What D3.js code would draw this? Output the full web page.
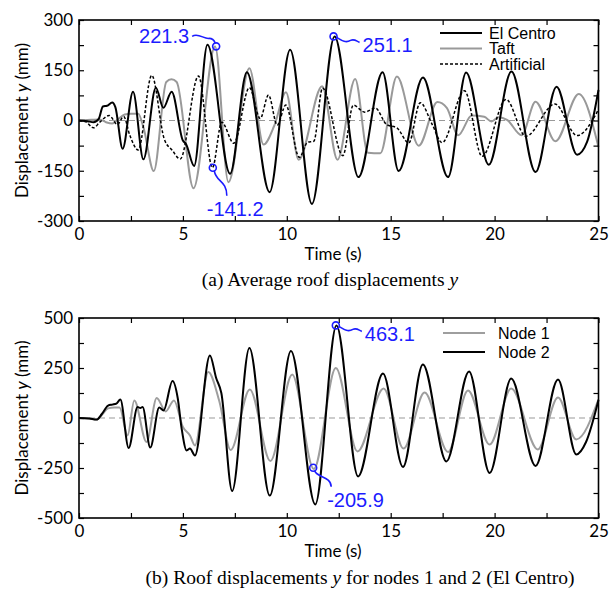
<!DOCTYPE html>
<html><head><meta charset="utf-8">
<script src="https://cdn.jsdelivr.net/npm/d3@7"></script>
<style>body{margin:0;background:#fff}</style>
</head><body><svg id="c" width="611" height="595"></svg>
<script>
// ---------- DATA ----------
const elCentro = [[0,0],[0.4,-2],[0.7,-5],[0.95,5],[1.15,42],[1.35,44],[1.6,54],[1.75,40],[2.1,-84],[2.6,86],[3.1,-116],[3.7,98],[4.06,38],[4.46,86],[5.0,-60],[5.15,-70],[5.54,-136],[6.18,226],[7.27,-159],[8.08,144],[9.17,-214],[10.16,211],[11.21,-249],[12.3,251],[13.45,-169],[14.61,144],[15.38,-151],[16.55,128],[17.76,-169],[18.63,143],[19.72,-132],[20.81,146],[21.97,-154],[22.98,101],[23.97,-102],[24.45,-64],[25,91]];
const taft = [[0,0],[0.6,2],[1.0,3],[1.3,-5],[1.6,-9],[1.9,5],[2.2,18],[2.5,20],[2.85,20],[3.1,-20],[3.6,-151],[4.2,115],[4.45,123],[4.7,115],[5.51,-202],[6.55,221],[7.19,-184],[8.2,156],[8.88,-72],[9.4,-15],[9.96,84],[10.57,-117],[11.7,102],[12.44,-117],[13.29,124],[13.9,-96],[14.5,-98],[15.3,131],[16.35,-75],[17.25,55],[17.7,38],[18.25,-44],[18.9,15],[19.5,11],[19.85,-3],[20.2,10],[20.6,2],[21.3,-44],[21.97,56],[22.93,-62],[24.05,79],[25,-79]];
const artificial = [[0,0],[0.35,-5],[0.7,-22],[1.0,-5],[1.45,15],[1.85,-12],[2.15,12],[2.45,-45],[2.85,-88],[3.5,135],[4.1,-55],[4.5,-90],[4.87,-115],[5.75,133],[6.42,-141],[6.87,-5],[7.45,-68],[8.2,98],[8.72,6],[9.12,76],[9.54,-14],[9.95,46],[10.6,-110],[11.0,-65],[11.3,-62],[11.72,97],[12.7,-105],[13.2,46],[13.75,25],[14.26,37],[14.8,-12],[15.3,-22],[15.87,-67],[16.42,53],[17.0,-12],[17.47,-66],[18.55,89],[19.4,-107],[20.55,63],[21.5,-47],[22.9,49],[23.97,-45],[25,33]];
const node2 = [[0,0],[0.5,-3],[0.85,-8],[1.1,20],[1.4,62],[1.6,67],[1.8,72],[1.99,92],[2.39,-150],[2.82,55],[2.95,50],[3.06,55],[3.43,-148],[3.86,52],[4.07,38],[4.5,185],[4.75,100],[4.94,-53],[5.18,-162],[5.34,-153],[5.58,-187],[6.3,313],[6.6,200],[6.85,125],[7.37,-365],[8.2,350],[9.18,-388],[10.2,335],[11.37,-432],[12.39,463],[13.43,-292],[14.63,222],[15.59,-245],[16.55,268],[17.68,-217],[18.77,233],[19.76,-275],[20.8,197],[21.97,-240],[23.05,193],[23.93,-182],[24.4,-120],[25,90]];
const node1 = [[0,0],[0.5,-3],[0.85,-8],[1.1,15],[1.4,48],[1.7,52],[1.95,52],[2.34,-87],[2.66,88],[3.25,-120],[3.74,100],[4.17,33],[4.57,88],[5.0,-45],[5.34,-87],[5.58,-137],[6.22,230],[6.75,85],[7.3,-160],[8.22,143],[9.21,-215],[10.26,217],[11.3,-255],[12.36,250],[13.4,-167],[14.66,147],[15.62,-153],[16.63,127],[17.76,-170],[18.72,138],[19.76,-133],[20.8,147],[22.08,-157],[23.05,102],[23.93,-107],[25,93]];
const xTicks = [0,2.5,5,7.5,10,12.5,15,17.5,20,22.5,25];
const yTicksA = [-300,-225,-150,-75,0,75,150,225,300];
const yTicksB = [-500,-375,-250,-125,0,125,250,375,500];
const notesA = [{t:6.6,v:221.3,label:"221.3",kind:"left"},{t:6.44,v:-141.2,label:"-141.2",kind:"down",dx:-6,dy:48,lx:14,ly:28},{t:12.25,v:251.1,label:"251.1",kind:"right"}];
const notesB = [{t:12.36,v:463.1,label:"463.1",kind:"right"},{t:11.27,v:-249,label:"-205.9",kind:"down",dx:14,dy:39,lx:18,ly:19}];
const legendA = [{name:"El Centro",color:"#000",dash:null,w:2},{name:"Taft",color:"#999",dash:null,w:2},{name:"Artificial",color:"#000",dash:"3,2",w:1.5}];
const legendB = [{name:"Node 1",color:"#9e9e9e",dash:null,w:2},{name:"Node 2",color:"#000",dash:null,w:2}];

// ---------- DRAW ----------
const svg = d3.select("#c");
svg.append("rect").attr("width",611).attr("height",595).attr("fill","#fff");
const tickFont = "Lato, 'Open Sans', sans-serif";
const blue = "#1c1cff";

function panel(o){
  const x = d3.scaleLinear([0,25],[79,598.5]);
  const y = d3.scaleLinear(o.ydom,[o.bottom,o.top]);
  const g = svg.append("g");
  g.append("line").attr("x1",x(0)).attr("x2",x(25)).attr("y1",y(0)).attr("y2",y(0))
    .attr("stroke","#999").attr("stroke-width",1).attr("stroke-dasharray","6,4");
  const line = d3.line().x(d=>x(d[0])).y(d=>y(d[1])).curve(d3.curveMonotoneX);
  o.series.forEach(s=>{
    g.append("path").attr("d",line(s.data)).attr("fill","none").attr("stroke",s.color)
      .attr("stroke-width",s.w).attr("stroke-dasharray",s.dash).attr("stroke-linejoin","round");
  });
  const fmtX = d=> d%5===0 ? d : "";
  const fmtY = d=> d%o.labelStep===0 ? d : "";
  const ax = [
    g.append("g").attr("transform",`translate(0,${o.bottom})`).call(d3.axisBottom(x).tickValues(xTicks).tickFormat(fmtX).tickSizeInner(-5).tickSizeOuter(0).tickPadding(7)),
    g.append("g").attr("transform",`translate(0,${o.top})`).call(d3.axisTop(x).tickValues(xTicks).tickFormat("").tickSizeInner(-5).tickSizeOuter(0)),
    g.append("g").attr("transform",`translate(79,0)`).call(d3.axisLeft(y).tickValues(o.yticks).tickFormat(fmtY).tickSizeInner(-5).tickSizeOuter(0).tickPadding(6)),
    g.append("g").attr("transform",`translate(598.5,0)`).call(d3.axisRight(y).tickValues(o.yticks).tickFormat("").tickSizeInner(-5).tickSizeOuter(0))
  ];
  ax.forEach(a=>{a.select(".domain").remove(); a.selectAll("line").attr("stroke","#000").attr("stroke-width",1.2);
    a.selectAll("text").attr("font-family",tickFont).attr("font-size",17).attr("fill","#000");});
  g.append("rect").attr("x",79).attr("y",o.top).attr("width",598.5-79).attr("height",o.bottom-o.top)
    .attr("fill","none").attr("stroke","#000").attr("stroke-width",1.6);
  g.append("text").attr("x",333).attr("y",o.bottom+39).attr("text-anchor","middle")
    .attr("font-family",tickFont).attr("font-size",17).text("Time (s)");
  const yl = g.append("text").attr("transform",`translate(28,${(o.top+o.bottom)/2}) rotate(-90)`)
    .attr("text-anchor","middle").attr("font-family",tickFont).attr("font-size",17);
  yl.append("tspan").text("Displacement ");
  yl.append("tspan").attr("font-style","italic").text("y");
  yl.append("tspan").text(" (mm)");
  const cap = g.append("text").attr("x",o.capX).attr("y",o.bottom+o.capDy).attr("text-anchor","middle")
    .attr("font-family","'Liberation Serif', 'Times New Roman', serif").attr("font-size",19.5);
  cap.append("tspan").text(o.cap);
  cap.append("tspan").attr("font-style","italic").text("y");
  if(o.cap2) cap.append("tspan").text(o.cap2);
  o.legend.forEach((l,i)=>{
    const ly = o.legY + i*o.legGap;
    g.append("line").attr("x1",o.legX).attr("x2",o.legX+42).attr("y1",ly).attr("y2",ly)
      .attr("stroke",l.color).attr("stroke-width",l.w).attr("stroke-dasharray",l.dash);
    g.append("text").attr("x",o.legX+o.legTx).attr("y",ly+5.5).attr("font-family","'Liberation Sans', Arial, sans-serif")
      .attr("font-size",16).text(l.name);
  });
  o.notes.forEach(n=>{
    const mx = x(n.t), my = y(n.v);
    let p, tx, ty, anchor="start";
    if(n.kind==="left"){ p=`M${mx-24},${my-10} C${mx-18},${my-14} ${mx-12},${my-7} ${mx-7},${my-8} C${mx-4},${my-8} ${mx-2},${my-6} ${mx-1},${my-3.5}`; tx=mx-27; ty=my-3; anchor="end"; }
    else if(n.kind==="right"){ p=`M${mx+3},${my+1} C${mx+8},${my+4} ${mx+12},${my+7} ${mx+17},${my+4} C${mx+21},${my+2} ${mx+23},${my+5} ${mx+26},${my+6}`; tx=mx+29; ty=my+15.5; }
    else { p=`M${mx+1.5},${my+3} C${mx+3},${my+n.ly*0.5} ${mx+n.lx},${my+n.ly*0.45} ${mx+n.lx},${my+n.ly}`; tx=mx+n.dx; ty=my+n.dy; }
    g.append("path").attr("d",p).attr("fill","none").attr("stroke",blue).attr("stroke-width",1.6);
    g.append("circle").attr("cx",mx).attr("cy",my).attr("r",3.5).attr("fill","none").attr("stroke",blue).attr("stroke-width",1.6);
    g.append("text").attr("x",tx).attr("y",ty).attr("text-anchor",anchor).attr("fill",blue)
      .attr("font-family","'Liberation Sans', Arial, sans-serif").attr("font-size",20).text(n.label);
  });
}

panel({ydom:[-300,300],top:20,bottom:221,yticks:yTicksA,labelStep:150,
  series:[{data:taft,color:"#999",w:2},{data:artificial,color:"#000",w:1.5,dash:"3,2"},{data:elCentro,color:"#000",w:2}],
  cap:"(a) Average roof displacements ",capX:330,capDy:65,legend:legendA,legX:440,legY:33,legGap:15.5,legTx:49,notes:notesA});
panel({ydom:[-500,500],top:318,bottom:518,yticks:yTicksB,labelStep:250,
  series:[{data:node1,color:"#9e9e9e",w:2},{data:node2,color:"#000",w:2}],
  cap:"(b) Roof displacements ",cap2:" for nodes 1 and 2 (El Centro)",capX:360,capDy:66,legend:legendB,legX:443,legY:333,legGap:19,legTx:55,notes:notesB});
</script></body></html>
